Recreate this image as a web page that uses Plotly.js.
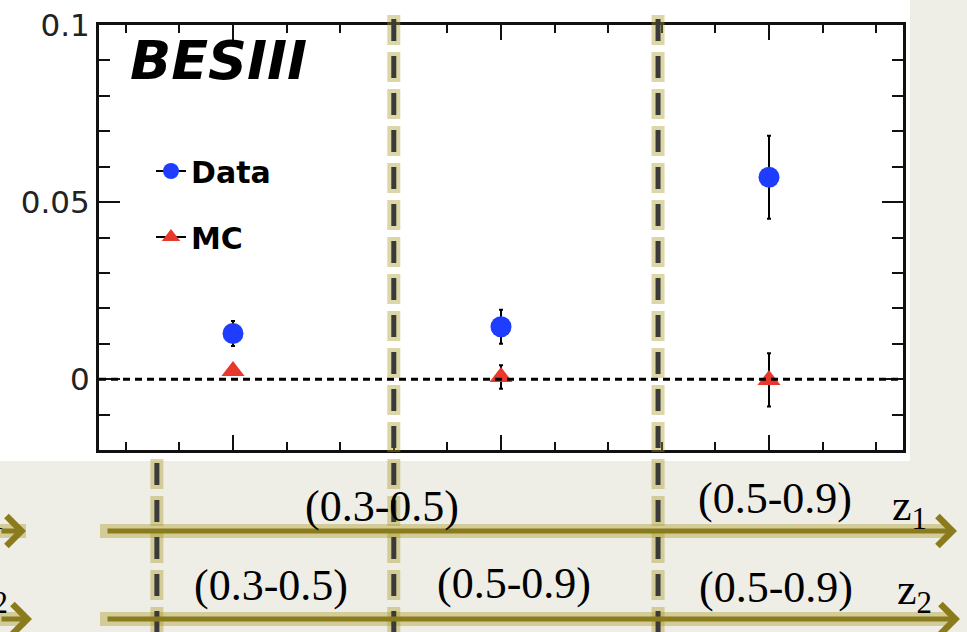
<!DOCTYPE html>
<html>
<head>
<meta charset="utf-8">
<script src="https://cdn.plot.ly/plotly-3.0.1.min.js"></script>
<style>
  html, body { margin: 0; padding: 0; background: #eeede6; }
  #chart { width: 967px; height: 632px; }
</style>
</head>
<body>
<div id="chart"></div>
<script>
// ---- data ----
const binIndex = [1, 2, 3];
const dataY    = [0.0129, 0.0148, 0.0570];
const dataErr  = [0.0035, 0.0048, 0.0117];
const mcY      = [0.0023, 0.0006, -0.0002];
const mcErr    = [0.0010, 0.0033, 0.0075];
const seriesNames = ['Data', 'MC'];
const dividerX = [0.716, 1.60, 2.586];          // bin separators (x-axis units)
const row1Labels = ['(0.3-0.5)', '(0.5-0.9)'];
const row2Labels = ['(0.3-0.5)', '(0.5-0.9)', '(0.5-0.9)'];
const axisNames  = ['z<sub>1</sub>', 'z<sub>2</sub>'];
const yTickVals  = [0, 0.05, 0.1];
const yTickText  = ['0', '0.05', '0.1'];

// ---- layout geometry ----
const W = 967, H = 632;
const M = {l: 99, r: 64, t: 25, b: 182};
const PW = W - M.l - M.r, PH = H - M.t - M.b;
const px = x => (x - M.l) / PW;            // pixel -> paper x
const py = y => (M.t + PH - y) / PH;       // pixel -> paper y

const OLIVE = '#8a7b1c';
const GLOW = 'rgba(170,155,35,0.40)';
const SERIF = 'Liberation Serif, Times New Roman, serif';

const traces = [
  { x: binIndex, y: dataY, type: 'scatter', mode: 'markers', showlegend: false,
    marker: {symbol: 'circle', size: 21, color: '#1f3dff'},
    error_y: {type: 'data', array: dataErr, visible: true, color: '#000', thickness: 2, width: 2} },
  { x: binIndex, y: mcY, type: 'scatter', mode: 'markers', showlegend: false,
    marker: {symbol: 'triangle-up', size: 20, color: '#e8372c'},
    error_y: {type: 'data', array: mcErr, visible: true, color: '#000', thickness: 2, width: 2} },
  // legend entries
  { x: [null], y: [null], type: 'scatter', mode: 'lines+markers', name: seriesNames[0], legendgroup: 'a',
    line: {color: '#000', width: 2}, marker: {symbol: 'circle', size: 21, color: '#1f3dff'} },
  { x: [null], y: [null], type: 'scatter', mode: 'lines+markers', name: seriesNames[1], legendgroup: 'b',
    line: {color: '#000', width: 2}, marker: {symbol: 'triangle-up', size: 20, color: '#e8372c'} }
];

const shapes = [];
// white panel behind the plot
shapes.push({type: 'rect', xref: 'paper', yref: 'paper', layer: 'below',
  x0: px(-5), x1: px(910), y0: py(461), y1: py(-5), fillcolor: '#ffffff', line: {width: 0}});
// dotted zero line
shapes.push({type: 'line', xref: 'paper', yref: 'y', x0: 0, x1: 1, y0: 0, y1: 0,
  line: {color: '#000', width: 3, dash: '7px,5px'}});
// arrow glows
[531, 619].forEach(yy => {
  shapes.push({type: 'line', xref: 'paper', yref: 'paper', layer: 'below',
    x0: px(100), x1: px(950), y0: py(yy), y1: py(yy), line: {color: GLOW, width: 14}});
  shapes.push({type: 'line', xref: 'paper', yref: 'paper', layer: 'below',
    x0: px(-10), x1: px(26), y0: py(yy), y1: py(yy), line: {color: GLOW, width: 14}});
});
// dashed bin separators (glow + dark dash)
dividerX.forEach((xv, i) => {
  const top = i === 0 ? 463 : 19;
  shapes.push({type: 'line', xref: 'x', yref: 'paper', layer: 'above',
    x0: xv, x1: xv, y0: py(top - 4), y1: py(680),
    line: {color: GLOW, width: 13, dash: '30px,7px'}});
  shapes.push({type: 'line', xref: 'x', yref: 'paper', layer: 'above',
    x0: xv, x1: xv, y0: py(top), y1: py(680),
    line: {color: '#3a3a3a', width: 5, dash: '22px,15px'}});
});

const annotations = [];
// BESIII label
annotations.push({xref: 'paper', yref: 'paper', x: px(128), y: py(60), xanchor: 'left', yanchor: 'middle',
  text: '<b><i>BESIII</i></b>', showarrow: false,
  font: {family: 'DejaVu Sans', size: 54, color: '#000'}});
// arrows
[[957, 531], [960, 619]].forEach(([xt, yt]) => {
  annotations.push({xref: 'paper', yref: 'paper', x: px(xt), y: py(yt), ax: -(xt - 106), ay: 0,
    axref: 'pixel', ayref: 'pixel', text: '', showarrow: true,
    arrowhead: 4, arrowsize: 1.15, arrowwidth: 5, arrowcolor: OLIVE});
});
[[26, 531], [32, 619]].forEach(([xt, yt]) => {
  annotations.push({xref: 'paper', yref: 'paper', x: px(xt), y: py(yt), ax: -80, ay: 0,
    text: '', showarrow: true, arrowhead: 4, arrowsize: 1.15, arrowwidth: 5, arrowcolor: OLIVE});
});
const txt = (t, x, y, xa) => ({xref: 'paper', yref: 'paper', x: px(x), y: py(y), text: t,
  showarrow: false, xanchor: xa || 'center', yanchor: 'middle',
  font: {family: SERIF, size: 44, color: '#000'}});
// range labels
const row1Pos = [[382, 506], [775, 498]];
row1Labels.forEach((t, i) => annotations.push(txt(t, row1Pos[i][0], row1Pos[i][1])));
const row2Pos = [[271, 585], [514, 583], [776, 587]];
row2Labels.forEach((t, i) => annotations.push(txt(t, row2Pos[i][0], row2Pos[i][1])));
// axis names z1 z2 (right) and clipped ones (left)
const namePos = [[890, 508], [895, 592]];
axisNames.forEach((t, i) => annotations.push(txt(t, namePos[i][0], namePos[i][1], 'left')));
const leftPos = [[6, 508], [10, 592]];
axisNames.forEach((t, i) => annotations.push(txt(t, leftPos[i][0], leftPos[i][1], 'right')));

const axisCommon = {
  showline: true, linecolor: '#111', linewidth: 3, mirror: 'allticks',
  ticks: 'inside', tickcolor: '#111', tickwidth: 2,
  showgrid: false, zeroline: false
};

const layout = {
  width: W, height: H,
  margin: M,
  paper_bgcolor: '#eeede6',
  plot_bgcolor: 'rgba(0,0,0,0)',
  showlegend: true,
  legend: {x: px(151), y: py(145), xanchor: 'left', yanchor: 'top',
    bgcolor: 'rgba(0,0,0,0)', traceorder: 'grouped', tracegroupgap: 24,
    font: {family: 'DejaVu Sans', size: 30, color: '#000', weight: 'bold'}},
  xaxis: Object.assign({}, axisCommon, {
    range: [0.5, 3.5], tick0: 1, dtick: 1, ticklen: 15, showticklabels: false,
    minor: {ticks: 'inside', dtick: 0.2, ticklen: 8, tickcolor: '#111', tickwidth: 2}
  }),
  yaxis: Object.assign({}, axisCommon, {
    range: [-0.02, 0.1], tickvals: yTickVals, ticktext: yTickText, ticklen: 21,
    ticklabelstandoff: 0,
    tickfont: {family: 'DejaVu Sans', size: 31, color: '#222'},
    minor: {ticks: 'inside', dtick: 0.01, ticklen: 11, tickcolor: '#111', tickwidth: 2}
  }),
  shapes: shapes,
  annotations: annotations
};

Plotly.newPlot('chart', traces, layout, {staticPlot: true});
</script>
</body>
</html>
